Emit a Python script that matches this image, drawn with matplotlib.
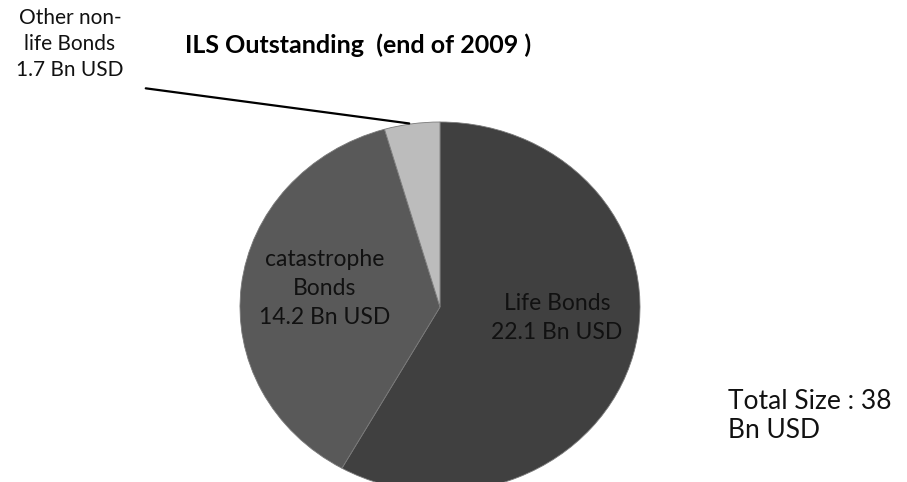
import numpy as np
import matplotlib
matplotlib.use("Agg")
import matplotlib.pyplot as plt

plt.rcParams['font.family'] = ['Lato', 'DejaVu Sans']

# data (Bn USD)
labels = ['Life Bonds', 'catastrophe\nBonds', 'Other non-\nlife Bonds']
values = [22.1, 14.2, 1.7]
colors = ['#404040', '#595959', '#bcbcbc']
total = 38

W, H = 907, 482
fig = plt.figure(figsize=(W / 100, H / 100), dpi=100)

# pie area in pixels: x 240..640, y 122..492 (from top)
ax = fig.add_axes([240 / W, (H - 492) / H, 400 / W, 370 / H])
wedges, _ = ax.pie(values, colors=colors, startangle=90, counterclock=False,
                   wedgeprops=dict(edgecolor='#7a7a7a', linewidth=0.6))
ax.set_aspect('auto')
ax.set_xlim(-1, 1)
ax.set_ylim(-1, 1)

txt = '#111111'
ax.text(0.585, -0.06, f'{labels[0]}\n{values[0]} Bn USD', ha='center', va='center',
        fontsize=16.5, color=txt, linespacing=1.45)
ax.text(-0.575, 0.10, f'{labels[1]}\n{values[1]} Bn USD', ha='center', va='center',
        fontsize=16.5, color=txt, linespacing=1.45)

# leader line for the small slice
w = wedges[2]
mid = np.deg2rad((w.theta1 + w.theta2) / 2)
ax.annotate('', xy=(np.cos(mid), np.sin(mid)), xytext=(-1.485, 1.184),
            arrowprops=dict(arrowstyle='-', color='black', lw=1.6),
            annotation_clip=False)
fig.text(70 / W, 1 - 44 / H, f'{labels[2]}\n{values[2]} Bn USD', ha='center', va='center',
         fontsize=15, color=txt, linespacing=1.4)

fig.text(185 / W, 1 - 45 / H, 'ILS Outstanding  (end of 2009 )', ha='left', va='center',
         fontsize=18, fontweight='bold', color='black')

fig.text(728 / W, 1 - 416 / H, f'Total Size : {total}\nBn USD', ha='left', va='center',
         fontsize=19, color=txt, linespacing=1.2)

fig.savefig('out.png', dpi=100)
